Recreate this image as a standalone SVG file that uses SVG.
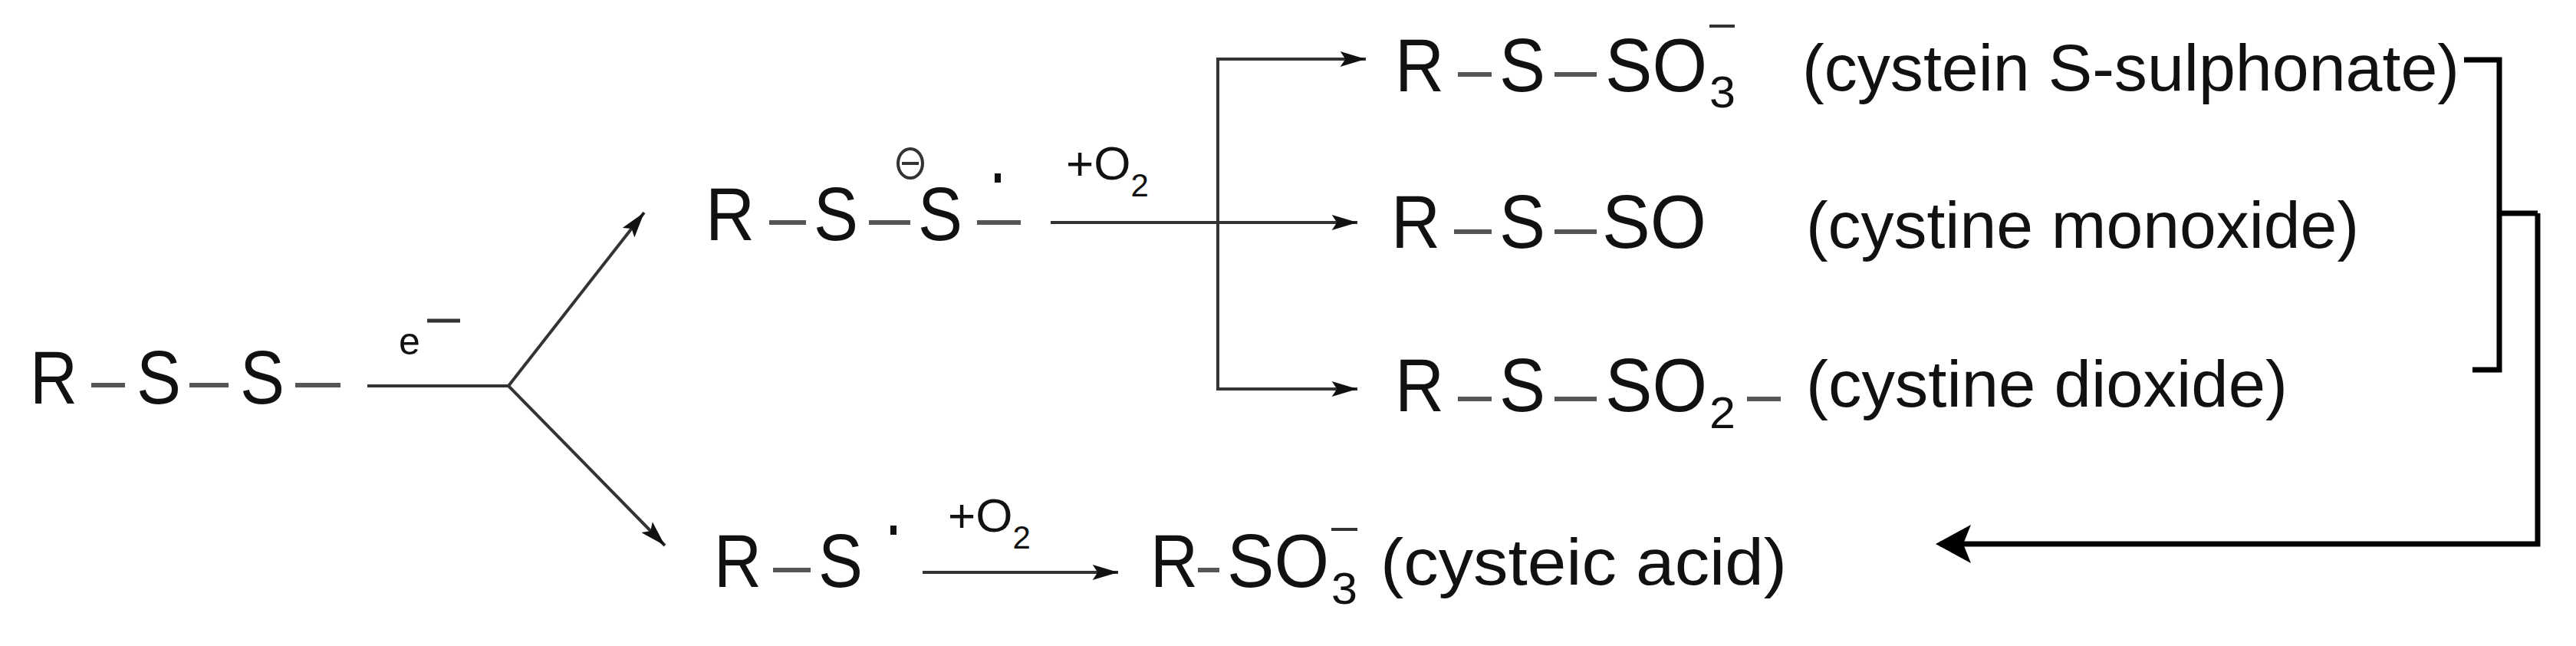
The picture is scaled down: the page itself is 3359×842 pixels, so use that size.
<svg xmlns="http://www.w3.org/2000/svg" width="3359" height="842" viewBox="0 0 3359 842">
<defs>
<style>
text{font-family:"Liberation Sans",Arial,sans-serif;fill:#111}
.a{font-size:98px}
.n{font-size:86px}
.s{font-size:58px}
.bond{stroke:#555;stroke-width:6}
.ln{stroke:#333;stroke-width:4;fill:none}
.bk{stroke:#000;stroke-width:7;fill:none}
</style>
<marker id="ah" viewBox="0 0 10 6" refX="10" refY="3" markerWidth="34" markerHeight="20" markerUnits="userSpaceOnUse" orient="auto"><path d="M0,0 L10,3 L0,6 L2,3 Z" fill="#111"/></marker>
</defs>
<g id="disulfide">
<text class="a" x="39" y="526" textLength="62" lengthAdjust="spacingAndGlyphs">R</text><line class="bond" x1="119" y1="502" x2="163" y2="502"/>
<text class="a" x="178" y="526" textLength="58" lengthAdjust="spacingAndGlyphs">S</text><line class="bond" x1="247" y1="502" x2="298" y2="502"/>
<text class="a" x="313" y="526" textLength="58" lengthAdjust="spacingAndGlyphs">S</text><line class="bond" x1="385" y1="502" x2="444" y2="502"/>
</g>
<g id="radical-anion">
<text class="a" x="920" y="313" textLength="64" lengthAdjust="spacingAndGlyphs">R</text><line class="bond" x1="1003" y1="290" x2="1051" y2="290"/>
<text class="a" x="1061" y="313" textLength="58" lengthAdjust="spacingAndGlyphs">S</text><line class="bond" x1="1133" y1="290" x2="1187" y2="290"/>
<text class="a" x="1197" y="313" textLength="58" lengthAdjust="spacingAndGlyphs">S</text><line class="bond" x1="1274" y1="290" x2="1331" y2="290"/>
<ellipse cx="1187" cy="213" rx="16" ry="19" fill="none" stroke="#333" stroke-width="4"/><line x1="1176" y1="213" x2="1198" y2="213" stroke="#333" stroke-width="4"/>
<rect x="1297" y="226" width="8" height="12" fill="#111"/>
</g>
<g id="thiyl">
<text class="a" x="931" y="765" textLength="62" lengthAdjust="spacingAndGlyphs">R</text><line class="bond" x1="1008" y1="743" x2="1057" y2="743"/>
<text class="a" x="1067" y="765" textLength="58" lengthAdjust="spacingAndGlyphs">S</text>
<rect x="1161" y="685" width="8" height="12" fill="#111"/>
</g>
<g id="sulphonate">
<text class="a" x="1819" y="119" textLength="64" lengthAdjust="spacingAndGlyphs">R</text><line class="bond" x1="1901" y1="97" x2="1945" y2="97"/>
<text class="a" x="1955" y="119" textLength="60" lengthAdjust="spacingAndGlyphs">S</text><line class="bond" x1="2027" y1="97" x2="2082" y2="97"/>
<text class="a" x="2093" y="119" textLength="133" lengthAdjust="spacingAndGlyphs">SO</text><text class="s" x="2229" y="140" textLength="34" lengthAdjust="spacingAndGlyphs">3</text>
<line x1="2229" y1="34" x2="2262" y2="34" stroke="#333" stroke-width="4"/>
<text class="n" x="2350" y="118" textLength="857" lengthAdjust="spacingAndGlyphs">(cystein S-sulphonate)</text>
</g>
<g id="monoxide">
<text class="a" x="1814" y="323" textLength="64" lengthAdjust="spacingAndGlyphs">R</text><line class="bond" x1="1896" y1="302" x2="1945" y2="302"/>
<text class="a" x="1955" y="323" textLength="60" lengthAdjust="spacingAndGlyphs">S</text><line class="bond" x1="2027" y1="302" x2="2082" y2="302"/>
<text class="a" x="2089" y="323" textLength="136" lengthAdjust="spacingAndGlyphs">SO</text>
<text class="n" x="2355" y="323" textLength="721" lengthAdjust="spacingAndGlyphs">(cystine monoxide)</text>
</g>
<g id="dioxide">
<text class="a" x="1819" y="536" textLength="64" lengthAdjust="spacingAndGlyphs">R</text><line class="bond" x1="1901" y1="520" x2="1945" y2="520"/>
<text class="a" x="1955" y="536" textLength="60" lengthAdjust="spacingAndGlyphs">S</text><line class="bond" x1="2027" y1="520" x2="2082" y2="520"/>
<text class="a" x="2093" y="536" textLength="133" lengthAdjust="spacingAndGlyphs">SO</text><text class="s" x="2229" y="558" textLength="34" lengthAdjust="spacingAndGlyphs">2</text>
<line class="bond" x1="2278" y1="520" x2="2322" y2="520"/>
<text class="n" x="2355" y="530" textLength="628" lengthAdjust="spacingAndGlyphs">(cystine dioxide)</text>
</g>
<g id="cysteic">
<text class="a" x="1500" y="765" textLength="62" lengthAdjust="spacingAndGlyphs">R</text><line class="bond" x1="1562" y1="743" x2="1590" y2="743"/>
<text class="a" x="1600" y="765" textLength="133" lengthAdjust="spacingAndGlyphs">SO</text><text class="s" x="1736" y="787" textLength="34" lengthAdjust="spacingAndGlyphs">3</text>
<line x1="1736" y1="690" x2="1770" y2="690" stroke="#333" stroke-width="4"/>
<text class="n" x="1800" y="762" textLength="530" lengthAdjust="spacingAndGlyphs">(cysteic acid)</text>
</g>
<g id="connectors">
<line class="ln" x1="479" y1="503" x2="663" y2="503"/>
<line class="ln" x1="663" y1="503" x2="840" y2="277" stroke-width="2.5" marker-end="url(#ah)"/>
<line class="ln" x1="663" y1="503" x2="867" y2="711" stroke-width="2.5" marker-end="url(#ah)"/>
<text x="520" y="462" style="font-size:50px">e</text>
<line x1="557" y1="418" x2="600" y2="418" stroke="#333" stroke-width="5"/>
<line class="ln" x1="1370" y1="290" x2="1770" y2="290" marker-end="url(#ah)"/>
<polyline class="ln" points="1781,77 1588,77 1588,507 1770,507"/>
<line class="ln" x1="1700" y1="77" x2="1781" y2="77" marker-end="url(#ah)"/>
<line class="ln" x1="1700" y1="507" x2="1770" y2="507" marker-end="url(#ah)"/>
<text x="1390" y="234" style="font-size:62px">+O<tspan style="font-size:42px" dy="22">2</tspan></text>
<line class="ln" x1="1203" y1="746" x2="1458" y2="746" marker-end="url(#ah)"/>
<text x="1236" y="693" style="font-size:62px">+O<tspan style="font-size:42px" dy="22">2</tspan></text>
<polyline class="bk" points="3213,78 3259,78 3259,482 3224,482"/>
<line class="bk" x1="3259" y1="278" x2="3309" y2="278"/>
<polyline class="bk" points="3309,278 3309,709 2530,709"/>
<path d="M2524,709 L2570,684 L2560,709 L2570,734 Z" fill="#000"/>
</g>
</svg>
